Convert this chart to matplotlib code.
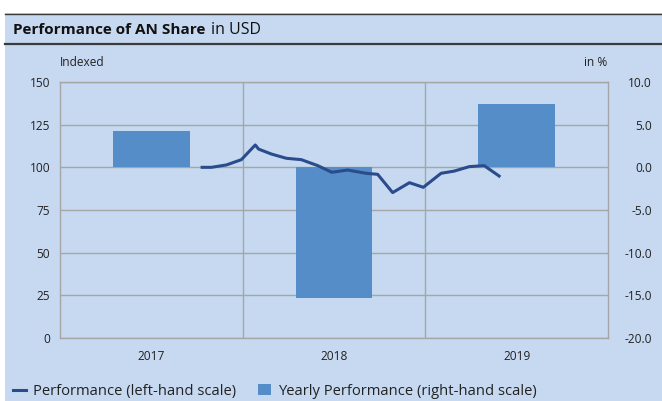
import matplotlib.pyplot as plt
from matplotlib.patches import Rectangle
from matplotlib.lines import Line2D

plt.rcParams['font.family'] = ['Open Sans', 'Noto Sans', 'DejaVu Sans']

# data
years = ['2017', '2018', '2019']
yearly_perf = [4.2, -15.3, 7.4]  # in %, right-hand scale
# line positions in year-category units (2017 = 0)
perf_pos = [0.278, 0.329, 0.411, 0.493, 0.569, 0.587, 0.657, 0.739, 0.821, 0.911, 0.988,
            1.075, 1.176, 1.239, 1.321, 1.413, 1.489, 1.586, 1.658, 1.740, 1.822, 1.904]
perf_index = [100.0, 100.0, 101.4, 104.5, 113.1, 110.7, 107.8, 105.3, 104.5, 101.0, 97.1,
              98.4, 96.5, 95.9, 85.2, 91.0, 88.3, 96.5, 97.8, 100.4, 101.0, 94.9]
left_ticks = [0, 25, 50, 75, 100, 125, 150]
right_ticks = [-20, -15, -10, -5, 0, 5, 10]

bg = '#C6D9F1'
bar_col = '#558DC8'
line_col = '#2B4C8C'
grid_col = '#A6A6A6'
W, H = 662, 401

fig = plt.figure(figsize=(W / 100, H / 100), dpi=100)
fig.patch.set_facecolor('white')
# background panel
fig.patches.append(Rectangle((5 / W, 0), 1 - 5 / W, 1 - 13 / H, transform=fig.transFigure,
                             facecolor=bg, edgecolor='none', zorder=-5))
fig.add_artist(Line2D([5 / W, 1], [1 - 13.5 / H] * 2, color='#3A3A3A', lw=1.0))
fig.add_artist(Line2D([5 / W, 1], [1 - 44 / H] * 2, color='#3A3A3A', lw=1.6))

# title
t = fig.text(13 / W, 1 - 30 / H, 'Performance of AN Share', fontsize=11, fontweight='bold',
             va='center', ha='left', color='#111111')
fig.canvas.draw()
bb = t.get_window_extent()
fig.text(bb.x1 / W + 6 / W, 1 - 30 / H, 'in USD', fontsize=11.5, va='center', ha='left',
         color='#111111')

ax = fig.add_axes([60 / W, 1 - 338 / H, (608 - 60) / W, (338 - 82) / H])
ax.set_facecolor('none')
ax.set_xlim(-0.5, 2.5)
ax.set_ylim(0, 150)
ax.set_yticks(left_ticks)
ax.set_xticks(range(len(years)))
ax.set_xticklabels(years)
ax.set_xticks([0.5, 1.5], minor=True)
ax.grid(axis='y', color=grid_col, lw=1.0)
ax.grid(axis='x', which='minor', color=grid_col, lw=1.0)
ax.tick_params(which='both', length=0)
ax.tick_params(axis='y', pad=7, labelsize=8.6, colors='#222222')
ax.tick_params(axis='x', pad=9, labelsize=8.6, colors='#222222')
for s in ax.spines.values():
    s.set_color(grid_col)
    s.set_linewidth(1.0)
ax.set_axisbelow(True)

ax2 = ax.twinx()
ax2.set_ylim(-20, 10)
ax2.set_yticks(right_ticks)
ax2.set_yticklabels(['%.1f' % v for v in right_ticks])
ax2.tick_params(length=0, pad=31.5, labelsize=8.6, colors='#222222')
for lab in ax2.get_yticklabels():
    lab.set_ha('right')
for s in ax2.spines.values():
    s.set_visible(False)

ax2.bar(range(len(years)), yearly_perf, width=0.42, color=bar_col, zorder=2)
ax2.plot(perf_pos, perf_index, color=line_col, lw=2.2, transform=ax.transData, zorder=3)
ax2.set_xlim(-0.5, 2.5)
ax2.set_ylim(-20, 10)

fig.text(60 / W, 1 - 62 / H, 'Indexed', fontsize=8.6, va='center', ha='left', color='#222222')
fig.text(607 / W, 1 - 62 / H, 'in %', fontsize=8.6, va='center', ha='right', color='#222222')

# legend
handles = [Line2D([], [], color=line_col, lw=2.2),
           Rectangle((0, 0), 1, 1, facecolor=bar_col, edgecolor='none')]
fig.legend(handles, ['Performance (left-hand scale)', 'Yearly Performance (right-hand scale)'],
           loc='lower left', bbox_to_anchor=(0 / W, -11 / H), ncol=2, frameon=False,
           fontsize=10.6, handlelength=0.85, handleheight=0.7, handletextpad=0.5,
           columnspacing=1.5, labelcolor='#222222')

fig.savefig('out.png', dpi=100)
